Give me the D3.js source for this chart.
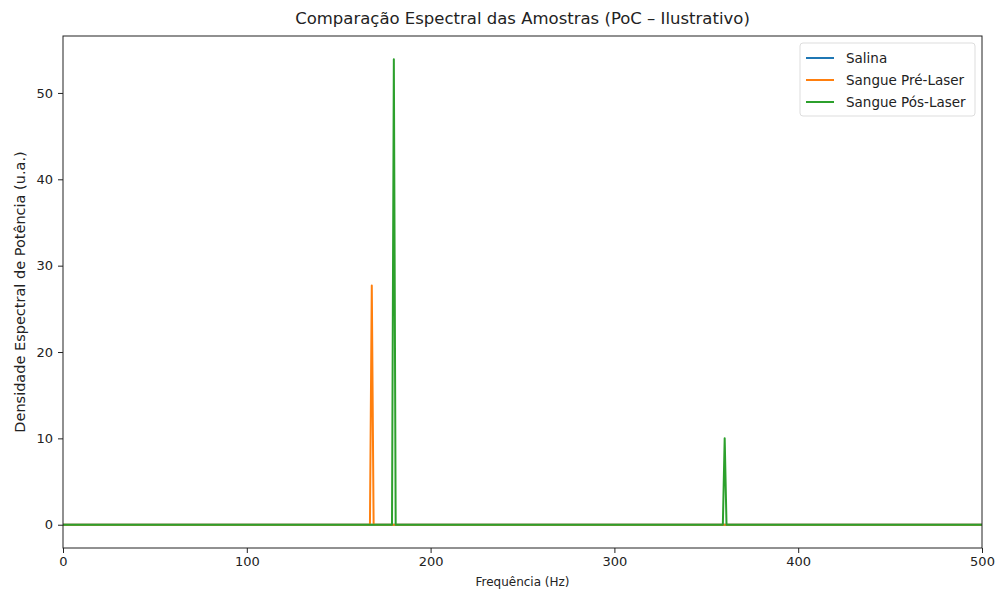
<!DOCTYPE html>
<html>
<head>
<meta charset="utf-8">
<script src="https://cdn.jsdelivr.net/npm/d3@7"></script>
<style>
body { margin: 0; background: #fff; }
svg text { font-family: "DejaVu Sans", sans-serif; fill: #222; }
.axis path, .axis line { stroke: #222; }
</style>
</head>
<body>
<div id="chart"></div>
<script>
// frequencies (Hz) where the spectra change; everything else is flat at 0
var freqs = [0, 167, 168, 169, 179, 180, 181, 359, 360, 361, 500];
var salina = [0, 0, 0, 0, 0, 0, 0, 0, 0, 0, 0];
var preLaser = [0, 0, 27.7, 0, 0, 0, 0, 0, 0, 0, 0];
var posLaser = [0, 0, 0, 0, 0, 53.9, 0, 0, 10.0, 0, 0];
var seriesNames = ["Salina", "Sangue Pré-Laser", "Sangue Pós-Laser"];
var colors = ["#1f77b4", "#ff7f0e", "#2ca02c"];
var xTicks = [0, 100, 200, 300, 400, 500];
var yTicks = [0, 10, 20, 30, 40, 50];

var W = 995, H = 592;
var margin = {top: 36, right: 13, bottom: 44, left: 63};
var width = W - margin.left - margin.right, height = H - margin.top - margin.bottom;

var svg = d3.select("#chart").append("svg")
    .attr("width", W)
    .attr("height", H);

var g = svg.append("g")
    .attr("transform", "translate(" + margin.left + "," + margin.top + ")");

var allVals = salina.concat(preLaser, posLaser);
var ymax = d3.max(allVals), ymin = d3.min(allVals);
var pad = (ymax - ymin) * 0.05;

var x = d3.scaleLinear().domain([0, 500]).range([0, width]);
var y = d3.scaleLinear().domain([ymin - pad, ymax + pad]).range([height, 0]);

var line = d3.line()
    .x(function(d){ return x(d[0]); })
    .y(function(d){ return y(d[1]); });

var data = [salina, preLaser, posLaser];
data.forEach(function(vals, i) {
    g.append("path")
        .datum(freqs.map(function(f, j){ return [f, vals[j]]; }))
        .attr("d", line)
        .attr("fill", "none")
        .attr("stroke", colors[i])
        .attr("stroke-width", 2)
        .attr("stroke-linejoin", "round");
});

// frame
g.append("rect")
    .attr("width", width)
    .attr("height", height)
    .attr("fill", "none")
    .attr("stroke", "#222")
    .attr("stroke-width", 1);

var xAxis = g.append("g")
    .attr("class", "x axis")
    .attr("transform", "translate(0," + height + ")")
    .call(d3.axisBottom(x).tickValues(xTicks).tickSize(5).tickPadding(4));
xAxis.select(".domain").remove();
xAxis.selectAll("text").style("font-size", "13px");

var yAxis = g.append("g")
    .attr("class", "y axis")
    .call(d3.axisLeft(y).tickValues(yTicks).tickSize(5).tickPadding(5));
yAxis.select(".domain").remove();
yAxis.selectAll("text").style("font-size", "13px");

svg.append("text")
    .attr("x", margin.left + width / 2)
    .attr("y", 24)
    .attr("text-anchor", "middle")
    .style("font-size", "16.5px")
    .text("Comparação Espectral das Amostras (PoC – Ilustrativo)");

svg.append("text")
    .attr("x", margin.left + width / 2)
    .attr("y", 586)
    .attr("text-anchor", "middle")
    .style("font-size", "12px")
    .text("Frequência (Hz)");

svg.append("text")
    .attr("transform", "translate(25," + (margin.top + height / 2) + ") rotate(-90)")
    .attr("text-anchor", "middle")
    .style("font-size", "14.5px")
    .text("Densidade Espectral de Potência (u.a.)");

// legend
var legend = svg.append("g")
    .attr("transform", "translate(800,43)");
legend.append("rect")
    .attr("width", 175)
    .attr("height", 73)
    .attr("rx", 3)
    .attr("fill", "#fff")
    .attr("fill-opacity", 0.8)
    .attr("stroke", "#ddd");
seriesNames.forEach(function(name, i) {
    var ly = 15 + i * 22;
    legend.append("line")
        .attr("x1", 6).attr("x2", 34)
        .attr("y1", ly).attr("y2", ly)
        .attr("stroke", colors[i])
        .attr("stroke-width", 2);
    legend.append("text")
        .attr("x", 46)
        .attr("y", ly + 5)
        .style("font-size", "13.5px")
        .text(name);
});
</script>
</body>
</html>
